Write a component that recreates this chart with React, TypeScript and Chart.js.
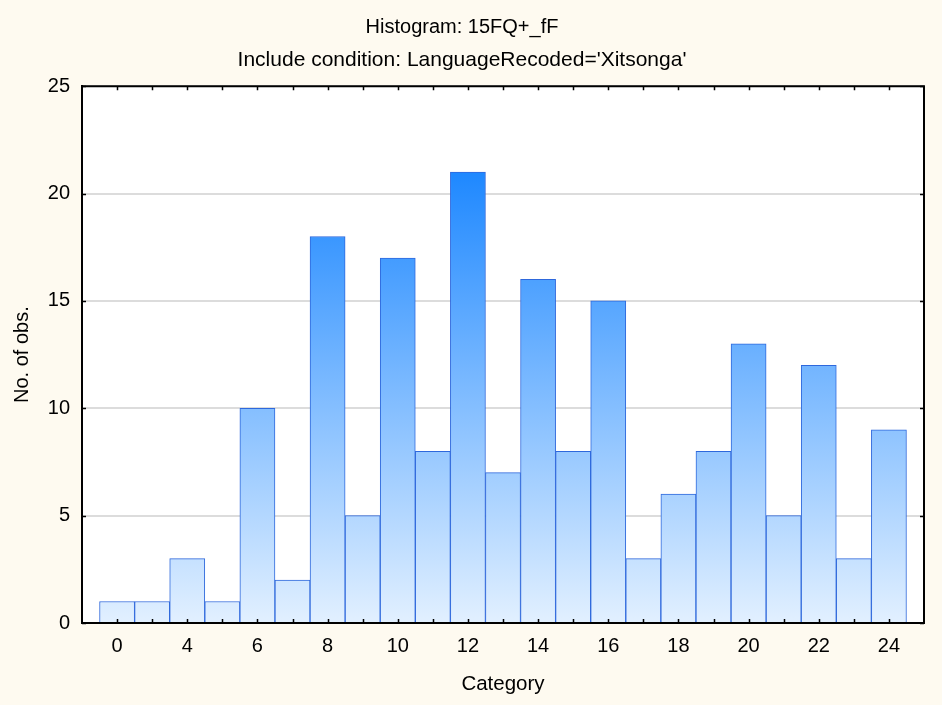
import React, { useEffect, useRef } from "react";
import { Chart, registerables } from "chart.js";

Chart.register(...registerables);

const titleText = "Histogram: 15FQ+_fF";
const subtitleText = "Include condition: LanguageRecoded='Xitsonga'";
const xAxisTitle = "Category";
const yAxisTitle = "No. of obs.";
const categories = ["0", "3", "4", "5", "6", "7", "8", "9", "10", "11", "12", "13", "14", "15", "16", "17", "18", "19", "20", "21", "22", "23", "24"];
const counts = [1, 1, 3, 1, 10, 2, 18, 5, 17, 8, 21, 7, 16, 8, 15, 3, 6, 8, 13, 5, 12, 3, 9];
const yTicks = [0, 5, 10, 15, 20, 25];

const FONT = "'Liberation Sans', Arial, sans-serif";

const framePlugin = {
  id: "frame",
  beforeDraw(chart: any) {
    const { ctx, width, height, chartArea } = chart;
    ctx.save();
    ctx.fillStyle = "#FEFAF0";
    ctx.fillRect(0, 0, width, height);
    ctx.fillStyle = "#FFFFFF";
    ctx.fillRect(chartArea.left, chartArea.top, chartArea.right - chartArea.left, chartArea.bottom - chartArea.top);
    ctx.restore();
  },
  afterDraw(chart: any) {
    const { ctx, chartArea, scales } = chart;
    const { left, right, top, bottom } = chartArea;
    ctx.save();
    ctx.strokeStyle = "#000000";
    ctx.lineWidth = 2;
    ctx.beginPath();
    ctx.moveTo(left, top);
    ctx.lineTo(right, top);
    ctx.lineTo(right, bottom);
    ctx.stroke();
    ctx.lineWidth = 1.5;
    ctx.beginPath();
    for (let i = 0; i < categories.length; i++) {
      const x = Math.round(scales.x.getPixelForValue(i)) + 0.5;
      ctx.moveTo(x, bottom);
      ctx.lineTo(x, bottom - 4);
      ctx.moveTo(x, top);
      ctx.lineTo(x, top + 4);
    }
    for (const v of yTicks) {
      const y = Math.round(scales.y.getPixelForValue(v)) + 0.5;
      ctx.moveTo(left, y);
      ctx.lineTo(left + 4, y);
      ctx.moveTo(right, y);
      ctx.lineTo(right - 4, y);
    }
    ctx.stroke();
    ctx.restore();
  },
};

export default function App() {
  const ref = useRef<HTMLCanvasElement | null>(null);

  useEffect(() => {
    document.body.style.margin = "0";
    const canvas = ref.current;
    if (!canvas) return;
    const maxCount = Math.max(...counts);
    const chart = new Chart(canvas, {
      type: "bar",
      data: {
        datasets: [
          {
            data: categories.map((_, i) => ({ x: i, y: counts[i] })),
            backgroundColor: (c: any) => {
              const ch = c.chart;
              if (!ch.chartArea) return "#8EC6FF";
              const y0 = ch.scales.y.getPixelForValue(0);
              const y1 = ch.scales.y.getPixelForValue(maxCount);
              const g = ch.ctx.createLinearGradient(0, y0, 0, y1);
              g.addColorStop(0, "#E2F0FF");
              g.addColorStop(1, "#1E88FF");
              return g;
            },
            borderColor: "#2E68DC",
            borderWidth: 1,
            barPercentage: 1,
            categoryPercentage: 1,
          },
        ],
      },
      plugins: [framePlugin],
      options: {
        animation: false,
        responsive: false,
        devicePixelRatio: 1,
        layout: { padding: { left: 0, right: 18, top: 0, bottom: 0 } },
        plugins: {
          legend: { display: false },
          tooltip: { enabled: false },
          title: {
            display: true,
            text: titleText,
            color: "#000000",
            font: { family: FONT, size: 20, weight: "normal" },
            padding: { top: 15, bottom: 9 },
          },
          subtitle: {
            display: true,
            text: subtitleText,
            color: "#000000",
            font: { family: FONT, size: 21, weight: "normal" },
            padding: { top: 0, bottom: 13 },
          },
        },
        scales: {
          x: {
            type: "linear",
            min: -1,
            max: 23,
            offset: false,
            grid: { display: false, drawTicks: false },
            border: { display: true, color: "#000000", width: 2 },
            ticks: {
              stepSize: 1,
              autoSkip: false,
              maxRotation: 0,
              padding: 11,
              color: "#000000",
              font: { family: FONT, size: 20 },
              callback: (v: any) => {
                const i = Number(v);
                if (i >= 0 && i < categories.length && i % 2 === 0) return categories[i];
                return "";
              },
            },
            title: {
              display: true,
              text: xAxisTitle,
              color: "#000000",
              font: { family: FONT, size: 20.5 },
              padding: { top: 0, bottom: 8 },
            },
            afterFit: (s: any) => {
              s.height = 82;
            },
          },
          y: {
            min: 0,
            max: 25,
            grid: { display: true, color: "#DCDCDC", lineWidth: 2, drawTicks: false },
            border: { display: true, color: "#000000", width: 2 },
            ticks: {
              stepSize: 5,
              padding: 12,
              color: "#000000",
              font: { family: FONT, size: 20 },
            },
            title: {
              display: true,
              text: yAxisTitle,
              color: "#000000",
              font: { family: FONT, size: 20 },
              padding: { top: 10, bottom: 0 },
            },
            afterFit: (s: any) => {
              s.width = 82;
            },
          },
        },
      } as any,
    });
    return () => chart.destroy();
  }, []);

  return <canvas ref={ref} width={942} height={705} style={{ display: "block" }} />;
}
